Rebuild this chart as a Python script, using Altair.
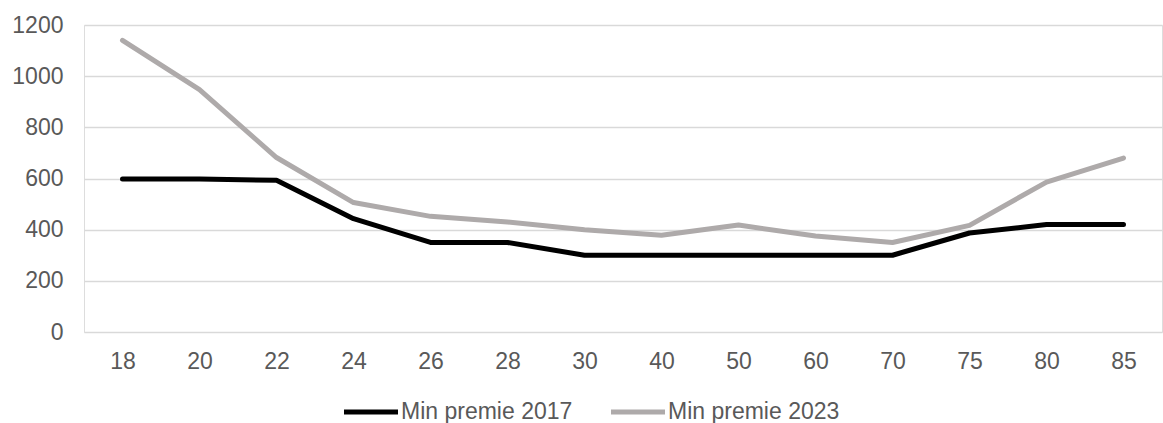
import altair as alt
import pandas as pd

# Age groups on the x axis and the minimum premium per year
ages = ["18", "20", "22", "24", "26", "28", "30", "40", "50", "60", "70", "75", "80", "85"]
premie_2017 = [598, 598, 593, 443, 350, 350, 300, 300, 300, 300, 300, 387, 420, 420]
premie_2023 = [1140, 947, 682, 506, 452, 430, 400, 378, 418, 375, 350, 417, 586, 680]
series_names = ["Min premie 2017", "Min premie 2023"]
series_colors = ["#000000", "#AEAAAA"]

rows = []
for name, values in zip(series_names, [premie_2017, premie_2023]):
    for order, (age, v) in enumerate(zip(ages, values)):
        rows.append({"Leeftijd": age, "Premie": v, "Reeks": name, "volgorde": order})
df = pd.DataFrame(rows)

FONT = "Liberation Sans"
TEXT = "#595959"
SIZE = 23

chart = (
    alt.Chart(df)
    .mark_line(strokeWidth=5, strokeCap="round", strokeJoin="round")
    .encode(
        x=alt.X(
            "Leeftijd:N",
            sort=ages,
            scale=alt.Scale(type="point", padding=0.5),
            axis=alt.Axis(
                title=None,
                labelAngle=0,
                domain=False,
                ticks=False,
                grid=False,
                labelFontSize=SIZE,
                labelFont=FONT,
                labelColor=TEXT,
                labelPadding=18,
            ),
        ),
        y=alt.Y(
            "Premie:Q",
            scale=alt.Scale(domain=[0, 1200], nice=False),
            axis=alt.Axis(
                title=None,
                values=[0, 200, 400, 600, 800, 1000, 1200],
                format="d",
                domain=False,
                ticks=False,
                gridColor="#D9D9D9",
                gridWidth=1.5,
                labelFontSize=SIZE,
                labelFont=FONT,
                labelColor=TEXT,
                labelPadding=21,
            ),
        ),
        color=alt.Color(
            "Reeks:N",
            scale=alt.Scale(domain=series_names, range=series_colors),
            legend=alt.Legend(
                title=None,
                orient="none",
                legendX=271,
                legendY=371,
                direction="horizontal",
                # a wide horizontal stroke drawn from a compact symbol size
                symbolType="M-2,0H2",
                symbolSize=729,
                symbolStrokeWidth=5,
                labelFontSize=SIZE,
                labelFont=FONT,
                labelColor=TEXT,
                labelOffset=14,
                columnPadding=28,
                labelLimit=400,
                padding=0,
            ),
        ),
        order=alt.Order("volgorde:Q"),
        detail="Reeks:N",
    )
    .properties(
        width=1078,
        height=307,
        autosize=alt.AutoSizeParams(type="none"),
        padding={"left": 84, "top": 25, "right": 1, "bottom": 91},
    )
    .configure_view(stroke=None)
    .configure(background="white")
)

chart.save("out.html", embed_options={"renderer": "svg", "actions": False})
